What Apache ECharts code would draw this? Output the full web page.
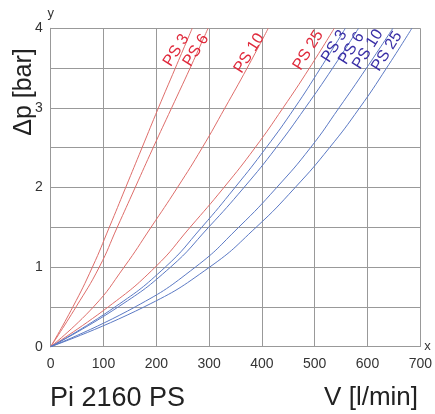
<!DOCTYPE html>
<html>
<head>
<meta charset="utf-8">
<script src="https://cdn.jsdelivr.net/npm/echarts@6/dist/echarts.min.js"></script>
<style>
html,body{margin:0;padding:0;background:#fff;}
#chart{width:435px;height:414px;}
</style>
</head>
<body>
<div id="chart"></div>
<script>
// Pressure levels (Δp, bar) at which flow values were read
const levels = [0, 0.5, 1, 1.5, 2, 2.5, 3, 3.5, 4];
// Flow V [l/min] at each level
const redPS3  = [0, 42, 79, 111, 142, 173, 204, 236, 268];
const redPS6  = [0, 48, 92, 126, 160, 194, 229, 264, 298];
const redPS10 = [0, 81, 139, 190, 240, 287, 330, 372, 412];
const redPS25 = [0, 109, 198, 264, 328, 387, 440, 490, 537];
const bluePS3  = [0, 122, 217, 286, 349, 408, 462, 511, 558];
const bluePS6  = [0, 128, 227, 299, 366, 427, 482, 534, 583];
const bluePS10 = [0, 160, 274, 356, 428, 492, 546, 598, 648];
const bluePS25 = [0, 177, 301, 389, 463, 528, 585, 636, 684];
const xTicks = [0, 100, 200, 300, 400, 500, 600, 700];
const yTicks = [0, 1, 2, 3, 4];

const FONT = '"Liberation Sans", Arial, Helvetica, sans-serif';
const RED_LINE = '#de6d6a';
const BLUE_LINE = '#5b79c4';
const RED_TEXT = '#e02a3c';
const BLUE_TEXT = '#3a2fa6';

function mk(name, vals, lineColor, textColor, offset) {
  const data = levels.map((p, i) => [vals[i], p]);
  return {
    type: 'line',
    name: name,
    data: data,
    smooth: 0.5,
    showSymbol: false,
    silent: true,
    lineStyle: { color: lineColor, width: 1 },
    markPoint: {
      symbol: 'rect', symbolSize: 1, symbolOffset: offset,
      itemStyle: { color: 'rgba(0,0,0,0)' },
      data: [{ coord: data[data.length - 1] }],
      label: {
        show: true, position: 'inside', formatter: name, rotate: 58,
        color: textColor, fontSize: 16, fontFamily: FONT
      }
    }
  };
}

const chart = echarts.init(document.getElementById('chart'), null, { renderer: 'canvas' });
chart.setOption({
  animation: false,
  backgroundColor: '#fff',
  grid: { left: 50.7, right: 13.3, top: 28.3, bottom: 67.3, containLabel: false },
  xAxis: {
    type: 'value', min: 0, max: 700, interval: 100,
    name: 'x', nameLocation: 'end', nameGap: 4,
    nameTextStyle: { color: '#333', fontSize: 13, fontFamily: FONT, verticalAlign: 'middle' },
    axisLine: { lineStyle: { color: '#999', width: 1 } },
    axisTick: { show: false },
    axisLabel: {
      color: '#333', fontSize: 14, fontFamily: FONT, margin: 10,
      formatter: v => xTicks.includes(v) ? String(v) : ''
    },
    splitLine: { show: true, lineStyle: { color: '#999', width: 1 } }
  },
  yAxis: {
    type: 'value', min: 0, max: 4, interval: 0.5,
    name: 'y', nameLocation: 'end', nameGap: 8,
    nameTextStyle: { color: '#333', fontSize: 13, fontFamily: FONT, align: 'center' },
    axisLine: { show: true, lineStyle: { color: '#999', width: 1 } },
    axisTick: { show: false },
    axisLabel: {
      color: '#333', fontSize: 14, fontFamily: FONT, margin: 8,
      formatter: v => yTicks.includes(v) ? String(v) : ''
    },
    splitLine: { show: true, lineStyle: { color: '#999', width: 1 } }
  },
  graphic: [
    { type: 'text', left: 50, top: 385, style: { text: 'Pi 2160 PS', fontSize: 27, fontFamily: FONT, fill: '#222' } },
    { type: 'text', right: 17, top: 385, style: { text: 'V [l/min]', fontSize: 26, fontFamily: FONT, fill: '#222' } },
    { type: 'text', x: 24, y: 92, rotation: Math.PI / 2,
      style: { text: 'Δp [bar]', fontSize: 25, fontFamily: FONT, fill: '#222', align: 'center', verticalAlign: 'middle' } }
  ],
  series: [
    mk('PS 3', redPS3, RED_LINE, RED_TEXT, [-16, 22]),
    mk('PS 6', redPS6, RED_LINE, RED_TEXT, [-12, 22]),
    mk('PS 10', redPS10, RED_LINE, RED_TEXT, [-19, 25]),
    mk('PS 25', redPS25, RED_LINE, RED_TEXT, [-26, 22]),
    mk('PS 3', bluePS3, BLUE_LINE, BLUE_TEXT, [-11, 18]),
    mk('PS 6', bluePS6, BLUE_LINE, BLUE_TEXT, [-7, 20]),
    mk('PS 10', bluePS10, BLUE_LINE, BLUE_TEXT, [-25, 21]),
    mk('PS 25', bluePS25, BLUE_LINE, BLUE_TEXT, [-25, 23])
  ]
});
</script>
</body>
</html>
